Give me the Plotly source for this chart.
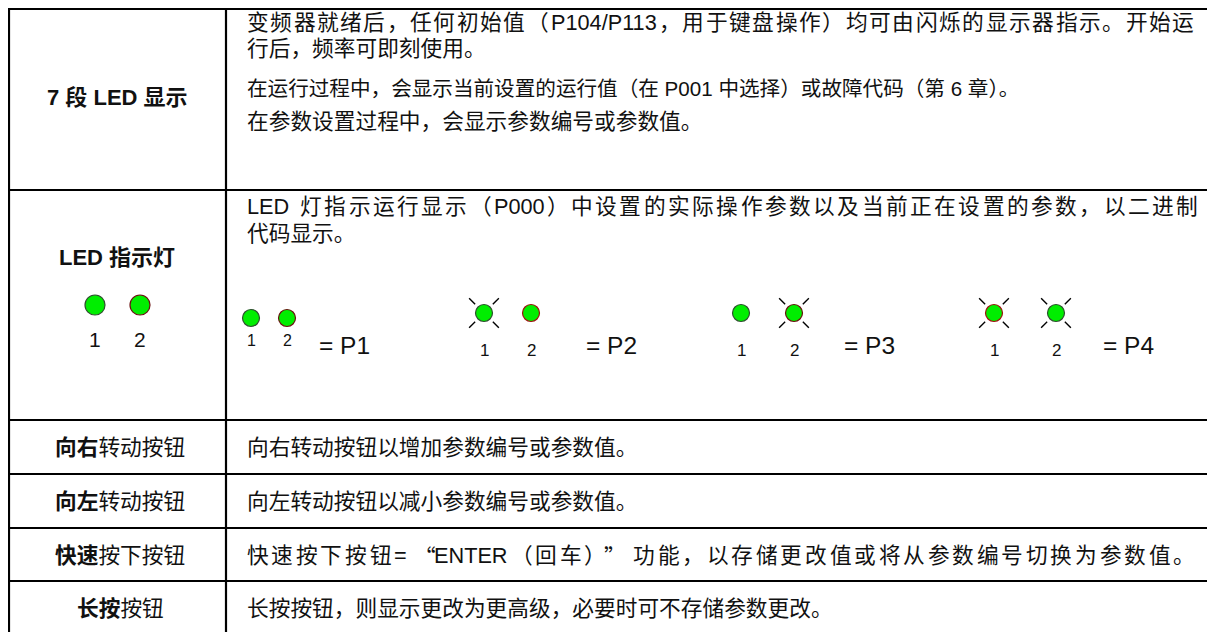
import math
import plotly.graph_objects as go

# ---------------- data ----------------
row_headers = [
    "<b>7 段 LED 显示</b>",
    "<b>LED 指示灯</b>",
    "<b>向右</b>转动按钮",
    "<b>向左</b>转动按钮",
    "<b>快速</b>按下按钮",
    "<b>长按</b>按钮",
]
display_text = [
    "变频器就绪后，任何初始值（P104/P113，用于键盘操作）均可由闪烁的显示器指示。开始运",
    "行后，频率可即刻使用。",
    "在运行过程中，会显示当前设置的运行值（在 P001 中选择）或故障代码（第 6 章）。",
    "在参数设置过程中，会显示参数编号或参数值。",
]
led_text = [
    "LED 灯指示运行显示（P000）中设置的实际操作参数以及当前正在设置的参数，以二进制",
    "代码显示。",
]
button_text = [
    "向右转动按钮以增加参数编号或参数值。",
    "向左转动按钮以减小参数编号或参数值。",
    "快速按下按钮=“ENTER（回车）”功能，以存储更改值或将从参数编号切换为参数值。",
    "长按按钮，则显示更改为更高级，必要时可不存储参数更改。",
]
led_numbers = ["1", "2"]
code_names = ["P1", "P2", "P3", "P4"]
led_flash = [[0, 0], [1, 0], [0, 1], [1, 1]]

# ---------------- layout / style ----------------
W, H = 1215, 632          # page size; the plot starts 8px in (body margin)
REG = "Liberation Sans, Noto Sans CJK SC"
TXT = "#111111"
FS = 21.7                 # body text
FSH = 22                  # bold headers
FSP = 24.5                # "= Pn"
GREEN = "#00ee00"

row_y = [9, 190, 420, 474, 528, 581]
x_left, x_div, x_text = 9, 226, 246

shapes = []
for y in row_y:
    shapes.append(dict(type="line", x0=x_left - 1, x1=W, y0=y, y1=y,
                       line=dict(color="black", width=2.2)))
for x in (x_left, x_div):
    shapes.append(dict(type="line", x0=x, x1=x, y0=row_y[0] - 1, y1=H,
                       line=dict(color="black", width=2.2)))

ann = []


def add_text(x, y, t, size=FS, anchor="left", color=TXT, family=REG):
    ann.append(dict(x=x, y=y, xref="x", yref="y", text=t, showarrow=False,
                    xanchor=anchor, yanchor="middle", borderpad=0,
                    font=dict(family=family, size=size, color=color)))


ARIAL = {"P": .667, "L": .556, "E": .667, "D": .722, "N": .722, "T": .611,
         "R": .722, "=": .584, "/": .278, " ": .278}


def is_wide(ch):
    return ord(ch) > 0x2E7F or ch in "“”"


def tokens_of(text):
    toks, buf = [], ""
    for ch in text:
        if is_wide(ch) or ch == " ":
            if buf:
                toks.append(buf)
                buf = ""
            toks.append(ch)
        else:
            buf += ch
    if buf:
        toks.append(buf)
    return toks


def tok_w(t, fs):
    if is_wide(t[0]):
        return fs
    return sum(ARIAL.get(c, .556) for c in t) * fs


def set_line(text, x0, x1, y, fs=FS):
    """lay a line out token by token so that it spans x0..x1 (justified)"""
    toks = tokens_of(text)
    widths = [tok_w(t, fs) for t in toks]
    gap = (x1 - x0 - sum(widths)) / (len(toks) - 1)
    x = x0
    for t, w in zip(toks, widths):
        if t != " ":
            cx = x + w / 2
            fam = REG
            if t == "“":
                cx += 0.22 * fs
                fam = "Noto Sans CJK SC"
            elif t == "”":
                cx -= 0.22 * fs
                fam = "Noto Sans CJK SC"
            add_text(cx, y, t, size=fs, anchor="center", family=fam)
        x += w + gap


# left column headers
add_text(117, 97, row_headers[0], size=FSH, anchor="center")
add_text(117, 257, row_headers[1], size=FSH, anchor="center")
for t, y in zip(row_headers[2:], [447, 501, 555, 608]):
    add_text(120, y, t, size=FS, anchor="center")

# row 1 paragraphs
r1_y = [22, 48, 88, 121]
set_line(display_text[0], 247, 1194, r1_y[0])
add_text(x_text, r1_y[1], display_text[1])
add_text(x_text, r1_y[2], display_text[2], size=20.6)
add_text(x_text, r1_y[3], display_text[3])

# row 2 text
set_line(led_text[0], 247, 1198, 206)
add_text(x_text, 233, led_text[1])

# button rows
btn_y = [447, 501, 555, 608]
for i, (t, y) in enumerate(zip(button_text, btn_y)):
    if i == 2:
        set_line(t, 247, 1195, y)
    else:
        add_text(x_text, y, t)

# LEDs ------------------------------------------------------------
fig = go.Figure()


def led(cx, cy, d, flash, edge):
    fig.add_trace(go.Scatter(x=[cx], y=[cy], mode="markers", hoverinfo="skip",
                             marker=dict(size=d, color=GREEN,
                                         line=dict(color=edge, width=1.2)),
                             showlegend=False))
    if flash:
        r1, r2 = d / 2 + 4, d / 2 + 12.5
        c = math.cos(math.pi / 4)
        for sx in (-1, 1):
            for sy in (-1, 1):
                shapes.append(dict(type="line",
                                   x0=cx + sx * r1 * c, y0=cy + sy * r1 * c,
                                   x1=cx + sx * r2 * c, y1=cy + sy * r2 * c,
                                   line=dict(color="black", width=1.4)))


# header LEDs in left column
left_edges = ["#2f4f2f", "#6a1010"]
for i, (x, num) in enumerate(zip([95, 140], led_numbers)):
    led(x, 305, 20, 0, left_edges[i])
    add_text(x, 339, num, size=21, anchor="center")

# code examples
group_led_x = [[251, 287], [484, 531], [741, 794], [994, 1056]]
group_led_y = [318, 313, 313, 313]
group_num_y = [340, 350, 350, 350]
group_num_fs = [16, 17, 17, 17]
group_eq_x = [318, 585, 843, 1102]
edges = [["#2f4f2f", "#6a1010"], ["#2f4f2f", "#a01010"],
         ["#2f4f2f", "#6a1010"], ["#a01010", "#2f4f2f"]]
for g, name in enumerate(code_names):
    for k in range(2):
        x = group_led_x[g][k]
        led(x, group_led_y[g], 17, led_flash[g][k], edges[g][k])
        add_text(x, group_num_y[g], led_numbers[k], size=group_num_fs[g],
                 anchor="center")
    add_text(group_eq_x[g], 345, "= " + name, size=FSP, anchor="left")

fig.update_layout(
    width=W - 8, height=H - 8, margin=dict(l=0, r=0, t=0, b=0),
    paper_bgcolor="white", plot_bgcolor="white",
    xaxis=dict(range=[8, W], visible=False, fixedrange=True),
    yaxis=dict(range=[H, 8], visible=False, fixedrange=True),
    shapes=shapes, annotations=ann, showlegend=False,
)
fig.write_html("out.html")
